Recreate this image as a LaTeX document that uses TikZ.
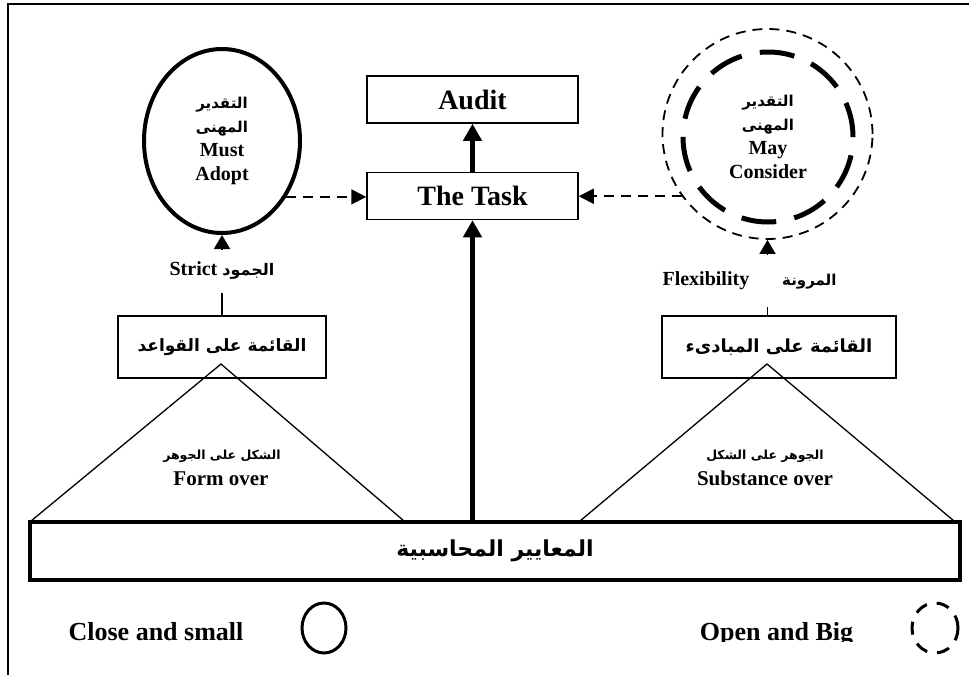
\documentclass[tikz,border=0pt]{standalone}
\usepackage{fontspec}
\setmainfont{Liberation Serif}
\newfontfamily\arabicfont[Script=Arabic]{DejaVu Sans}
\TeXXeTstate=1
\usetikzlibrary{arrows.meta,shapes.geometric}
\newcommand\arsize[1]{\arabicfont\fontsize{#1}{#1}\selectfont\bfseries}
\begin{document}
\begin{tikzpicture}[x=1pt,y=-1pt,
  topbox/.style={draw, line width=1.5pt, minimum width=211pt, minimum height=47pt, inner sep=0pt,
    font=\bfseries\fontsize{28}{32}\selectfont},
  rulebox/.style={draw, line width=1.8pt, minimum height=62pt, inner sep=0pt},
  thickarrow/.style={line width=5pt, -{Triangle[width=18pt,length=17pt]}},
  dasharrow/.style={line width=1.8pt, dash pattern=on 10pt off 7pt, -{Triangle[width=15pt,length=15pt]}},
  smallarrow/.style={line width=1.8pt, -{Triangle[width=16pt,length=14pt]}},
  lbl/.style={fill=white, inner sep=0pt, font=\bfseries\fontsize{20}{24}\selectfont},
  eng/.style={font=\bfseries\fontsize{21}{24}\selectfont},
  legend/.style={font=\bfseries\fontsize{26}{30}\selectfont, anchor=base, inner sep=0pt},
  judg/.style={align=center, inner sep=0pt, font=\bfseries\fontsize{20}{24}\selectfont}
]
\useasboundingbox (0,0) rectangle (969,675);
% frame
\draw[line width=2.2pt] (8,675) -- (8,4) -- (969,4);

% top boxes
\node[topbox] (audit) at (472.5,99.5) {Audit};
\node[topbox] (task) at (472.5,196) {The Task};

% left ellipse
\node[draw, ellipse, line width=4pt, minimum width=156pt, minimum height=184pt, judg] (lell) at (222,141)
  {{\arsize{15}\beginR التقدير\endR}\\ {\arsize{15}\beginR المهنى\endR}\\ Must\\ Adopt};

% right circles
\node[draw, circle, line width=1.8pt, dash pattern=on 10pt off 7pt, minimum size=210pt, inner sep=0pt] (rc) at (767.5,134) {};
\node[draw, circle, line width=5pt, dash pattern=on 35pt off 18.4pt, minimum size=170pt, judg] (rci) at (768,137)
  {{\arsize{15}\beginR التقدير\endR}\\ {\arsize{15}\beginR المهنى\endR}\\ May\\ Consider};

% rule / principle boxes
\node[rulebox, minimum width=208pt] (lbox) at (222,347) {\arsize{17}\beginR القائمة على القواعد\endR};
\node[rulebox, minimum width=234pt] (rbox) at (779,347) {\arsize{18}\beginR القائمة على  المبادىء\endR};

% base box
\node[draw, line width=4pt, minimum width=930pt, minimum height=58pt, inner sep=0pt] (base) at (495,551)
  {\arsize{22}\beginR المعايير المحاسبية\endR};

% triangles
\coordinate (lt1) at (31,521); \coordinate (lta) at (221,364); \coordinate (lt2) at (404,521);
\coordinate (rt1) at (580,521); \coordinate (rta) at (767,364); \coordinate (rt2) at (954,521);
\draw[line width=1.3pt] (lt1) -- (lta) -- (lt2);
\draw[line width=1.3pt] (rt1) -- (rta) -- (rt2);
\node (lar) at (222,456) {\arsize{12.5}\beginR الشكل على الجوهر\endR};
\node[eng, anchor=base] (leng) at (221,485) {Form over};
\node (rar) at (765,456) {\arsize{12.5}\beginR الجوهر على الشكل\endR};
\node[eng, anchor=base] (reng) at (765,485) {Substance over};

% arrows
\draw[thickarrow] (task.north) -- (audit.south);
\draw[thickarrow] (task.south |- base.north) -- (task.south);
\draw[dasharrow] (lell.-41) -- (lell.-41 -| task.west);
\draw[dasharrow] (rc.216) -- (rc.216 -| task.east);
\draw[smallarrow] (lbox.north) -- (lell.south);
\draw[smallarrow] (rc.south |- rbox.north) -- (rc.south);
\node[lbl, minimum height=43pt] (strict) at (222,271) {Strict\hspace{5pt}{\arsize{16}\beginR الجمود\endR}};
\node[lbl, minimum height=52pt] (flex) at (749.5,281) {Flexibility\hspace{33pt}{\arsize{15}\beginR المرونة\endR}};

% legend
\node[legend] (close) at (156,640) {Close and small};
\node[draw, ellipse, line width=3pt, minimum width=44pt, minimum height=50pt, inner sep=0pt] (closeic) at (324,628) {};
\begin{scope}
  \clip (680,590) rectangle (880,641);
  \node[legend] (open) at (776.5,640) {Open and Big};
\end{scope}
\node[draw, ellipse, line width=3pt, dash pattern=on 13pt off 10pt, minimum width=46pt, minimum height=50pt, inner sep=0pt] (openic) at (935,628) {};
\end{tikzpicture}
\end{document}
